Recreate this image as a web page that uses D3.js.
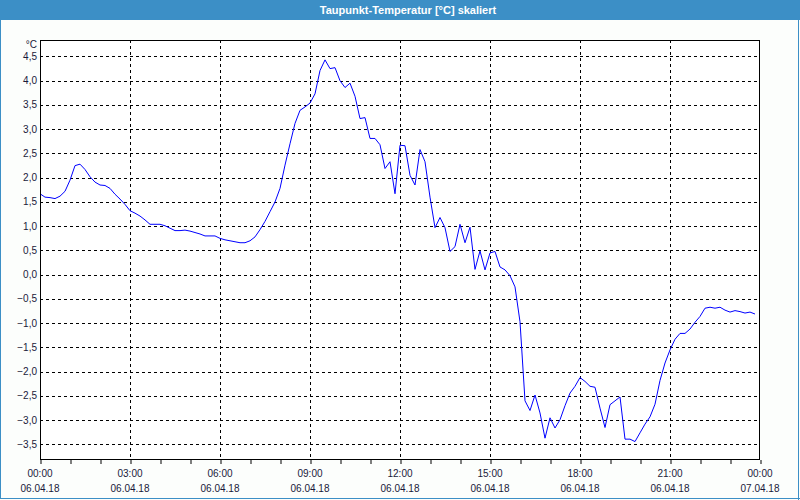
<!DOCTYPE html>
<html><head><meta charset="utf-8">
<script src="https://cdn.jsdelivr.net/npm/d3@7"></script>
<style>
html,body{margin:0;padding:0;background:#fff;}
svg{display:block;}
text{font-family:"Liberation Sans",Arial,sans-serif;}
</style></head>
<body>
<script>
const title = "Taupunkt-Temperatur [°C] skaliert";
const unitLabel = "°C";
const startTime = "2018-04-06T00:00:00";
const stepMinutes = 10;
const values = [
 1.67,1.60,1.59,1.57,1.62,1.72,1.95,2.25,2.28,2.17,2.02,1.91,1.85,1.84,1.78,1.66,1.56,1.45,
 1.32,1.27,1.21,1.13,1.04,1.04,1.04,1.01,0.96,0.91,0.91,0.92,0.90,0.87,0.84,0.80,0.80,0.80,
 0.75,0.72,0.70,0.68,0.66,0.66,0.70,0.78,0.93,1.10,1.30,1.50,1.78,2.26,2.70,3.12,3.39,3.46,
 3.54,3.73,4.21,4.43,4.25,4.27,4.00,3.86,3.95,3.68,3.22,3.24,2.81,2.81,2.68,2.19,2.33,1.67,
 2.67,2.66,2.05,1.85,2.58,2.33,1.60,0.97,1.18,0.97,0.48,0.58,1.04,0.66,0.98,0.11,0.49,0.10,
 0.45,0.48,0.16,0.10,-0.02,-0.25,-0.97,-2.60,-2.80,-2.48,-2.85,-3.37,-2.95,-3.16,-2.99,-2.70,
 -2.44,-2.30,-2.12,-2.20,-2.30,-2.32,-2.75,-3.15,-2.68,-2.60,-2.52,-3.39,-3.39,-3.44,-3.26,-3.08,
 -2.93,-2.67,-2.18,-1.82,-1.55,-1.33,-1.21,-1.21,-1.12,-0.98,-0.86,-0.69,-0.67,-0.69,-0.67,-0.73,
 -0.77,-0.74,-0.76,-0.79,-0.77,-0.81
];
const yTicks = [4.5,4.0,3.5,3.0,2.5,2.0,1.5,1.0,0.5,0.0,-0.5,-1.0,-1.5,-2.0,-2.5,-3.0,-3.5];
const xTickTimes = ["00:00","03:00","06:00","09:00","12:00","15:00","18:00","21:00","00:00"];
const xTickDates = ["06.04.18","06.04.18","06.04.18","06.04.18","06.04.18","06.04.18","06.04.18","06.04.18","07.04.18"];
const yDomain = [-3.82, 4.84];

const W = 800, H = 500;
const m = {left:40, right:760, top:40, bottom:460};
const parse = d3.isoParse;
const t0 = new Date(startTime);
const t1 = d3.timeDay.offset(t0, 1);
const data = values.map((v,i)=>({t:d3.timeMinute.offset(t0, i*stepMinutes), v}));

const svg = d3.select("body").append("svg").attr("width",W).attr("height",H);
svg.append("rect").attr("x",0).attr("y",0).attr("width",W).attr("height",H).attr("fill","#fcfefc");
// title bar
svg.append("rect").attr("x",0).attr("y",0).attr("width",W).attr("height",20).attr("fill","#3c8fc6");
svg.append("text").attr("x",408).attr("y",14).attr("text-anchor","middle")
  .attr("fill","#fff").attr("font-size","11px").attr("font-weight","bold").text(title);
// outer border
svg.append("rect").attr("x",0.5).attr("y",0.5).attr("width",W-2).attr("height",H-2)
  .attr("fill","none").attr("stroke","#3c8fc6").attr("stroke-width",1);
svg.append("line").attr("x1",W-1.5).attr("x2",W-1.5).attr("y1",0).attr("y2",H).attr("stroke","#3c8fc6");
svg.append("line").attr("x1",0).attr("x2",W).attr("y1",H-1.5).attr("y2",H-1.5).attr("stroke","#3c8fc6");

const x = d3.scaleTime().domain([t0,t1]).range([m.left,m.right]);
const y = d3.scaleLinear().domain(yDomain).range([m.bottom,m.top]);

svg.append("rect").attr("x",m.left).attr("y",m.top).attr("width",m.right-m.left).attr("height",m.bottom-m.top).attr("fill","#fff");

// grid
const vTicks = xTickTimes.map((s,i)=>d3.timeHour.offset(t0, i*3));
const g = svg.append("g");
g.selectAll(".hg").data(yTicks).join("line")
  .attr("x1",m.left).attr("x2",m.right)
  .attr("y1",d=>Math.round(y(d))+0.5).attr("y2",d=>Math.round(y(d))+0.5)
  .attr("stroke","#000").attr("stroke-dasharray","3,3");
g.selectAll(".vg").data(vTicks.slice(1,-1)).join("line")
  .attr("x1",d=>Math.round(x(d))+0.5).attr("x2",d=>Math.round(x(d))+0.5)
  .attr("y1",m.top).attr("y2",m.bottom)
  .attr("stroke","#000").attr("stroke-dasharray","3,3");

// line
const line = d3.line().x(d=>x(d.t)).y(d=>y(d.v));
svg.append("path").datum(data).attr("d",line).attr("fill","none").attr("stroke","#0000ff").attr("stroke-width",1);

// frame
svg.append("rect").attr("x",m.left+0.5).attr("y",m.top+0.5).attr("width",m.right-m.left-1).attr("height",m.bottom-m.top-1)
  .attr("fill","none").attr("stroke","#000");

// x axis ticks (hourly)
const xAxis = d3.axisBottom(x).ticks(d3.timeHour.every(1)).tickSize(4).tickFormat("");
const xg = svg.append("g").attr("transform",`translate(0.5,${m.bottom})`).call(xAxis);
xg.select(".domain").remove();
xg.selectAll("line").attr("stroke","#000");

// x labels
const xl = svg.append("g");
xl.selectAll(".t").data(vTicks).join("text")
  .attr("x",d=>x(d)).attr("y",477).attr("text-anchor","middle").attr("font-size","10px").attr("fill","#1a1a3a")
  .text((d,i)=>xTickTimes[i]);
xl.selectAll(".d").data(vTicks).join("text")
  .attr("x",d=>x(d)).attr("y",492).attr("text-anchor","middle").attr("font-size","10px").attr("fill","#1a1a3a")
  .text((d,i)=>xTickDates[i]);

// y labels
const yl = svg.append("g");
yl.selectAll("text").data(yTicks).join("text")
  .attr("x",37).attr("y",d=>y(d)+3.5).attr("text-anchor","end").attr("font-size","10px").attr("fill","#1a1a3a")
  .text(d=>d3.format(".1f")(d).replace(".",",").replace("-0,0","0,0"));
svg.append("text").attr("x",37).attr("y",48).attr("text-anchor","end").attr("font-size","10px").attr("fill","#1a1a3a").text(unitLabel);
</script>
</body></html>
